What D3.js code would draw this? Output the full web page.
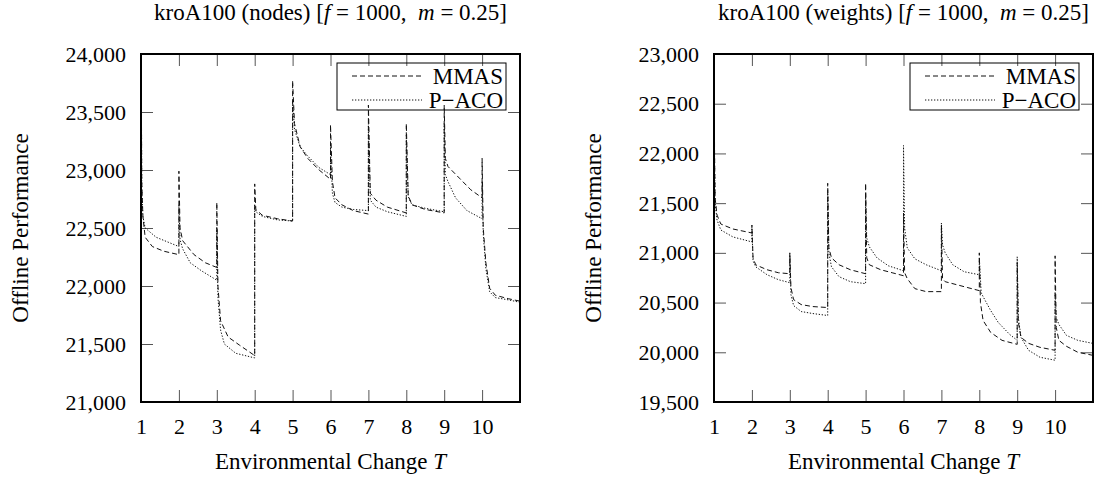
<!DOCTYPE html>
<html>
<head>
<meta charset="utf-8">
<script src="https://cdn.jsdelivr.net/npm/d3@7"></script>
<style>
  body { margin: 0; background: #fff; }
  text { font-family: "Liberation Serif", "Times New Roman", serif; fill: #000; }
</style>
</head>
<body>
<svg id="chart" width="1098" height="480"></svg>
<script>
// ---- data ----
var seriesNames = ["MMAS", "P\u2212ACO"];
var xTicks = [1, 2, 3, 4, 5, 6, 7, 8, 9, 10];
var nodesTicks = [21000, 21500, 22000, 22500, 23000, 23500, 24000];
var weightsTicks = [19500, 20000, 20500, 21000, 21500, 22000, 22500, 23000];

// kroA100 (nodes), [change T, offline performance]
var nodesMMAS = [
  [1.005, 24000], [1.02, 22900], [1.05, 22600], [1.11, 22420], [1.3, 22340], [1.6, 22300], [2, 22270],
  [2, 22990], [2.03, 22500], [2.1, 22390], [2.4, 22270], [2.7, 22200], [3, 22160],
  [3, 22720], [3.03, 22000], [3.1, 21700], [3.3, 21560], [3.6, 21490], [4, 21400],
  [4, 22880], [4.03, 22660], [4.2, 22610], [4.6, 22580], [5, 22560],
  [5, 23770], [5.05, 23400], [5.2, 23200], [5.4, 23100], [5.7, 23000], [6, 22920],
  [6, 23390], [6.05, 22900], [6.12, 22760], [6.3, 22700], [6.6, 22650], [7, 22620],
  [7, 23560], [7.05, 22800], [7.2, 22740], [7.5, 22680], [8, 22630],
  [8, 23400], [8.05, 22780], [8.15, 22700], [8.5, 22660], [9, 22630],
  [9, 23560], [9.03, 23100], [9.1, 23030], [9.4, 22930], [9.7, 22830], [10, 22760],
  [10, 23100], [10.03, 22500], [10.1, 22200], [10.2, 21980], [10.35, 21920], [10.7, 21890], [10.99, 21870], [10.99, 22480]
];
var nodesPACO = [
  [1.005, 24000], [1.02, 22850], [1.05, 22600], [1.11, 22500], [1.4, 22420], [1.7, 22380], [2, 22340],
  [2, 22700], [2.03, 22400], [2.1, 22320], [2.3, 22200], [2.6, 22130], [3, 22050],
  [3, 22500], [3.03, 21900], [3.1, 21620], [3.2, 21500], [3.5, 21420], [4, 21380],
  [4, 22700], [4.03, 22640], [4.2, 22600], [4.6, 22570], [5, 22560],
  [5, 23600], [5.05, 23350], [5.2, 23200], [5.4, 23120], [5.7, 23020], [6, 22960],
  [6, 23200], [6.05, 22800], [6.12, 22720], [6.3, 22680], [6.6, 22660], [7, 22650],
  [7, 23400], [7.05, 22740], [7.2, 22680], [7.5, 22640], [8, 22600],
  [8, 23300], [8.05, 22770], [8.15, 22700], [8.5, 22670], [9, 22640],
  [9, 23400], [9.03, 22960], [9.1, 22900], [9.3, 22760], [9.6, 22650], [10, 22580],
  [10, 22900], [10.03, 22450], [10.1, 22150], [10.2, 21950], [10.35, 21900], [10.7, 21880], [10.99, 21860], [10.99, 22300]
];

// kroA100 (weights)
var weightsMMAS = [
  [1.005, 23000], [1.015, 22000], [1.03, 21550], [1.08, 21380], [1.18, 21290], [1.5, 21240], [2, 21200],
  [2, 21280], [2.03, 20950], [2.1, 20880], [2.4, 20830], [2.7, 20800], [3, 20790],
  [3, 21000], [3.03, 20650], [3.1, 20530], [3.3, 20480], [3.6, 20460], [4, 20450],
  [4, 21700], [4.03, 21050], [4.1, 20950], [4.3, 20880], [4.6, 20830], [5, 20790],
  [5, 21700], [5.03, 20950], [5.1, 20880], [5.4, 20830], [5.7, 20800], [6, 20770],
  [6, 21400], [6.03, 20800], [6.1, 20740], [6.3, 20640], [6.6, 20610], [7, 20610],
  [7, 21280], [7.03, 20740], [7.1, 20710], [7.4, 20680], [7.7, 20650], [8, 20620],
  [8, 21000], [8.03, 20500], [8.1, 20320], [8.3, 20200], [8.6, 20120], [9, 20080],
  [9, 20900], [9.03, 20300], [9.1, 20150], [9.3, 20090], [9.6, 20050], [10, 20020],
  [10, 20970], [10.03, 20250], [10.1, 20120], [10.3, 20060], [10.6, 20000], [10.99, 19970], [10.99, 20550]
];
var weightsPACO = [
  [1.005, 23000], [1.015, 21900], [1.03, 21500], [1.08, 21330], [1.18, 21230], [1.5, 21160], [2, 21110],
  [2, 21250], [2.03, 20920], [2.1, 20860], [2.4, 20780], [2.7, 20730], [3, 20700],
  [3, 20980], [3.03, 20580], [3.1, 20470], [3.3, 20410], [3.6, 20390], [4, 20370],
  [4, 21600], [4.03, 21000], [4.1, 20860], [4.3, 20760], [4.6, 20710], [5, 20690],
  [5, 21600], [5.03, 21150], [5.1, 21060], [5.3, 20950], [5.6, 20870], [6, 20820],
  [6, 22080], [6.03, 21250], [6.1, 21050], [6.3, 20940], [6.6, 20880], [7, 20820],
  [7, 21300], [7.03, 21080], [7.1, 21000], [7.3, 20880], [7.6, 20810], [8, 20780],
  [8, 20950], [8.05, 20600], [8.1, 20560], [8.3, 20420], [8.5, 20300], [8.8, 20180], [9, 20120],
  [9, 20960], [9.03, 20350], [9.1, 20150], [9.3, 20020], [9.6, 19950], [10, 19920],
  [10, 20600], [10.03, 20350], [10.1, 20280], [10.3, 20170], [10.6, 20120], [10.99, 20090], [10.99, 20500]
];

var panels = [
  { kind: "nodes", left: 141, yDomain: [21000, 24000], ticks: nodesTicks, mmas: nodesMMAS, paco: nodesPACO },
  { kind: "weights", left: 714, yDomain: [19500, 23000], ticks: weightsTicks, mmas: weightsMMAS, paco: weightsPACO }
];

var svg = d3.select("#chart");
var plotTop = 54, plotW = 379, plotH = 348;
var dashes = ["5,3", "1.3,1.7"];

panels.forEach(function(p, i) {
  var g = svg.append("g").attr("transform", "translate(" + p.left + "," + plotTop + ")");

  var x = d3.scaleLinear().domain([1, 11]).range([0, plotW]);
  var y = d3.scaleLinear().domain(p.yDomain).range([plotH, 0]);

  g.append("clipPath").attr("id", "clip" + i)
    .append("rect").attr("width", plotW).attr("height", plotH);

  // axes, ticks pointing inwards
  var fmt = d3.format(",");
  var ax = [
    g.append("g").attr("transform", "translate(0," + plotH + ")")
      .call(d3.axisBottom(x).tickValues(xTicks).tickSizeInner(-12).tickSizeOuter(0).tickPadding(16)),
    g.append("g").call(d3.axisTop(x).tickValues(xTicks).tickSizeInner(-12).tickSizeOuter(0).tickFormat("")),
    g.append("g").call(d3.axisLeft(y).tickValues(p.ticks).tickFormat(fmt).tickSizeInner(-12).tickSizeOuter(0).tickPadding(15)),
    g.append("g").attr("transform", "translate(" + plotW + ",0)")
      .call(d3.axisRight(y).tickValues(p.ticks).tickSizeInner(-12).tickSizeOuter(0).tickFormat(""))
  ];
  ax.forEach(function(a) {
    a.select(".domain").remove();
    a.selectAll(".tick line").attr("stroke", "#555");
    a.selectAll("text").attr("font-size", 22).attr("font-family", "Liberation Serif").attr("fill", "#000");
  });
  // ticks on the frame corners are hidden by the frame anyway
  g.selectAll(".tick line").filter(function(d) { return d === p.yDomain[0] || d === p.yDomain[1] || d === 1; }).remove();

  var line = d3.line().x(function(d) { return x(d[0]); }).y(function(d) { return y(d[1]); });

  var plot = g.append("g").attr("clip-path", "url(#clip" + i + ")");
  [p.mmas, p.paco].forEach(function(s, k) {
    plot.append("path").datum(s)
      .attr("d", line)
      .attr("fill", "none")
      .attr("stroke", "#111")
      .attr("stroke-width", 1)
      .attr("stroke-dasharray", dashes[k]);
  });

  // frame
  g.append("rect").attr("width", plotW).attr("height", plotH)
    .attr("fill", "none").attr("stroke", "#000").attr("stroke-width", 2);

  // legend
  var lg = g.append("g").attr("transform", "translate(" + (plotW - 183) + ",9)");
  lg.append("rect").attr("width", 169).attr("height", 47)
    .attr("fill", "none").attr("stroke", "#000").attr("stroke-width", 1);
  seriesNames.forEach(function(n, k) {
    var yy = 13 + k * 24;
    lg.append("line").attr("x1", 15).attr("x2", 85).attr("y1", yy).attr("y2", yy)
      .attr("stroke", "#111").attr("stroke-width", 1).attr("stroke-dasharray", dashes[k]);
    lg.append("text").attr("x", 166).attr("y", yy).attr("dy", "0.35em")
      .attr("text-anchor", "end").attr("font-size", 23).text(n);
  });

  // title
  var t = svg.append("text")
    .attr("x", p.left + plotW / 2).attr("y", 20)
    .attr("text-anchor", "middle").attr("font-size", 23)
    .style("white-space", "pre");
  t.append("tspan").text("kroA100 (" + p.kind + ") [");
  t.append("tspan").attr("font-style", "italic").text("f");
  t.append("tspan").text(" = 1000,  ");
  t.append("tspan").attr("font-style", "italic").text("m");
  t.append("tspan").text(" = 0.25]");

  // x title
  var xt = svg.append("text")
    .attr("x", p.left + plotW / 2).attr("y", plotTop + plotH + 67)
    .attr("text-anchor", "middle").attr("font-size", 23);
  xt.append("tspan").text("Environmental Change ");
  xt.append("tspan").attr("font-style", "italic").text("T");

  // y title
  svg.append("text")
    .attr("transform", "translate(" + (p.left - 113) + "," + (plotTop + plotH / 2) + ") rotate(-90)")
    .attr("text-anchor", "middle").attr("font-size", 23)
    .text("Offline Performance");
});
</script>
</body>
</html>
